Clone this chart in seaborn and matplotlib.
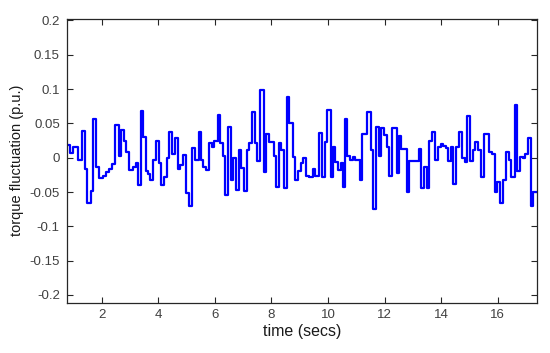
import numpy as np
import pandas as pd
import matplotlib
matplotlib.use("Agg")
import matplotlib.pyplot as plt
import seaborn as sns

# step start times (secs) and torque fluctuation values (p.u.)
t_start = [0.70, 0.879, 0.975, 1.173, 1.293, 1.410, 1.491, 1.611, 1.703, 1.799,
           1.894, 2.035, 2.141, 2.258, 2.375, 2.481, 2.601, 2.693, 2.788, 2.859,
           2.954, 3.096, 3.213, 3.283, 3.379, 3.471, 3.566, 3.637, 3.707, 3.803,
           3.919, 4.015, 4.086, 4.202, 4.298, 4.390, 4.485, 4.602, 4.697, 4.768,
           4.863, 4.980, 5.097, 5.192, 5.287, 5.429, 5.510, 5.591, 5.686, 5.804,
           5.888, 5.980, 6.100, 6.182, 6.277, 6.369, 6.465, 6.560, 6.652, 6.747,
           6.843, 6.935, 7.030, 7.126, 7.217, 7.313, 7.408, 7.500, 7.596, 7.726,
           7.808, 7.925, 8.080, 8.161, 8.257, 8.349, 8.444, 8.540, 8.631, 8.752,
           8.843, 8.939, 9.055, 9.126, 9.222, 9.317, 9.459, 9.551, 9.692, 9.787,
           9.883, 9.975, 10.095, 10.176, 10.258, 10.353, 10.448, 10.519, 10.590, 10.682,
           10.777, 10.872, 10.964, 11.120, 11.201, 11.389, 11.509, 11.601, 11.707, 11.791,
           11.884, 11.979, 12.074, 12.166, 12.262, 12.428, 12.509, 12.591, 12.782, 12.873,
           13.216, 13.298, 13.393, 13.488, 13.580, 13.675, 13.792, 13.883, 13.983, 14.075,
           14.170, 14.252, 14.337, 14.429, 14.524, 14.630, 14.736, 14.831, 14.923, 15.019,
           15.114, 15.206, 15.302, 15.397, 15.514, 15.702, 15.797, 15.893, 15.985, 16.080,
           16.176, 16.293, 16.387, 16.479, 16.600, 16.692, 16.787, 16.883, 16.974, 17.070,
           17.165, 17.257, 17.45]

torque = [0.018, 0.007, 0.016, -0.004, 0.039, -0.017, -0.066, -0.049, 0.057, -0.013,
          -0.029, -0.026, -0.021, -0.016, -0.009, 0.048, 0.003, 0.040, 0.025, 0.009,
          -0.018, -0.014, -0.007, -0.040, 0.068, 0.030, -0.020, -0.024, -0.032, -0.004,
          0.024, -0.008, -0.040, -0.028, 0.000, 0.037, 0.005, 0.029, -0.017, -0.010,
          0.004, -0.052, -0.071, 0.014, -0.004, 0.037, -0.004, -0.013, -0.018, 0.021,
          0.016, 0.025, 0.062, 0.021, 0.003, -0.055, 0.045, -0.032, -0.001, -0.047,
          0.011, -0.015, -0.048, 0.011, 0.021, 0.067, 0.021, -0.005, 0.098, -0.021,
          0.034, 0.023, 0.002, -0.043, 0.021, 0.011, -0.044, 0.089, 0.051, 0.001,
          -0.033, -0.020, -0.008, -0.001, -0.026, -0.028, -0.016, -0.026, 0.036, -0.028,
          0.023, 0.069, -0.028, 0.016, -0.006, -0.018, -0.008, -0.043, 0.056, 0.002,
          -0.003, 0.001, -0.004, -0.033, 0.034, 0.067, 0.011, -0.075, 0.045, 0.003,
          0.043, 0.033, 0.016, -0.026, 0.044, -0.023, 0.031, 0.013, -0.050, -0.005,
          0.012, -0.044, -0.013, -0.044, 0.024, 0.038, -0.004, 0.016, 0.020, 0.017,
          0.014, -0.005, 0.016, -0.038, 0.016, 0.038, -0.001, -0.006, 0.061, -0.005,
          0.011, 0.023, 0.011, -0.028, 0.034, 0.009, 0.006, -0.050, -0.035, -0.066,
          -0.032, 0.009, -0.004, -0.028, 0.077, -0.019, 0.001, 0.000, 0.006, 0.028,
          -0.071, -0.050, -0.050]

x_ticks = [2, 4, 6, 8, 10, 12, 14, 16]
y_ticks = [-0.2, -0.15, -0.1, -0.05, 0, 0.05, 0.1, 0.15, 0.2]
y_tick_labels = ["-0.2", "-0.15", "-0.1", "-0.05", "0", "0.05", "0.1", "0.15", "0.2"]

sns.set_theme(style="white")
plt.rcParams["font.family"] = ["Liberation Sans", "DejaVu Sans"]

df = pd.DataFrame({"time": t_start, "torque": torque})

fig = plt.figure(figsize=(5.5, 3.53), dpi=100)
ax = fig.add_axes([0.1213, 0.143, 0.855, 0.803])

sns.lineplot(data=df, x="time", y="torque", drawstyle="steps-post", color="#0000ff",
             linewidth=1.6, sort=False, estimator=None, ax=ax)

ax.set_xlim(0.763, 17.39)
ax.set_ylim(-0.211, 0.202)
ax.set_xticks(x_ticks)
ax.set_xticklabels([str(v) for v in x_ticks])
ax.set_yticks(y_ticks)
ax.set_yticklabels(y_tick_labels)

edge = "#262626"
for side in ["left", "right", "top", "bottom"]:
    ax.spines[side].set_visible(True)
    ax.spines[side].set_color(edge)
    ax.spines[side].set_linewidth(0.9)
ax.tick_params(direction="in", length=4, width=0.8, color=edge, labelcolor="#404040",
               labelsize=9.5, top=True, right=True, bottom=True, left=True, pad=5)

ax.set_xlabel("time (secs)", fontsize=11.5, color="#1a1a1a", labelpad=2)
ax.set_ylabel("torque fluctuation (p.u.)", fontsize=10.5, color="#1a1a1a", labelpad=4)

fig.savefig("out.png", dpi=100)
